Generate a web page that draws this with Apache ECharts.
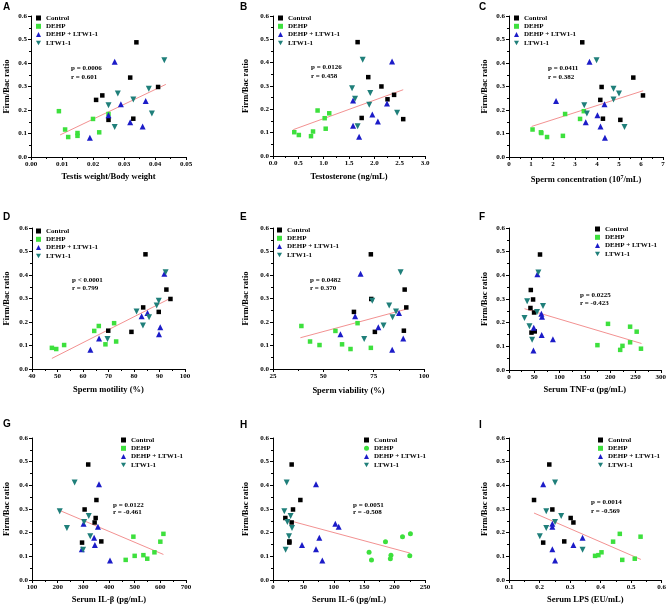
<!DOCTYPE html>
<html><head><meta charset="utf-8">
<script src="https://cdn.jsdelivr.net/npm/echarts@6/dist/echarts.min.js"></script>
<style>html,body{margin:0;padding:0;background:#fff}#c{width:669px;height:606px}</style>
</head><body><div id="c"></div>
<script>
// ---------- DATA ----------
const groups = ['Control', 'DEHP', 'DEHP + LTW1-1', 'LTW1-1'];
// Firm/Bac ratio per animal (same animals in every panel)
const yControl = [0.488, 0.338, 0.298, 0.262, 0.243, 0.163, 0.158];
const yDEHP    = [0.195, 0.183, 0.162, 0.117, 0.105, 0.102, 0.090, 0.085];
const yCombo   = [0.405, 0.238, 0.225, 0.178, 0.148, 0.130, 0.082];
const yLTW     = [0.412, 0.290, 0.270, 0.245, 0.220, 0.185, 0.128];

// A: Testis weight/Body weight
const testisControl = [0.034, 0.032, 0.041, 0.023, 0.021, 0.033, 0.025];
const testisDEHP    = [0.009, 0.025, 0.020, 0.011, 0.022, 0.015, 0.015, 0.012];
const testisCombo   = [0.027, 0.037, 0.029, 0.025, 0.032, 0.036, 0.019];
const testisLTW     = [0.043, 0.038, 0.028, 0.033, 0.025, 0.039, 0.027];
const testisFitX = [0.0094, 0.0435], testisFitY = [0.094, 0.309];
const testisStats = ['p = 0.0006', 'r = 0.601'];

// B: Testosterone
const testoControl = [1.67, 1.88, 2.14, 2.39, 2.26, 1.75, 2.57];
const testoDEHP    = [0.88, 1.11, 1.02, 1.04, 0.79, 0.42, 0.51, 0.75];
const testoCombo   = [2.35, 1.58, 2.25, 1.96, 2.07, 1.58, 1.70];
const testoLTW     = [1.77, 1.56, 1.92, 1.62, 1.90, 2.45, 1.67];
const testoFitX = [0.40, 2.57], testoFitY = [0.113, 0.284];
const testoStats = ['p = 0.0126', 'r = 0.458'];

// C: Sperm concentration
const concControl = [3.33, 5.65, 4.21, 6.09, 4.15, 4.27, 5.06];
const concDEHP    = [3.40, 2.55, 3.23, 1.07, 1.45, 1.47, 2.45, 1.73];
const concCombo   = [3.66, 2.14, 4.34, 4.02, 3.49, 4.16, 4.36];
const concLTW     = [3.98, 4.75, 5.00, 4.75, 3.42, 3.54, 5.25];
const concFitX = [1.03, 6.10], concFitY = [0.130, 0.282];
const concStats = ['p = 0.0411', 'r = 0.382'];

// D: Sperm motility
const motControl = [84.5, 92.7, 94.3, 83.6, 89.7, 69.9, 79.0];
const motDEHP    = [72.2, 66.2, 64.4, 73.0, 68.8, 52.6, 47.8, 49.5];
const motCombo   = [91.9, 85.3, 83.0, 90.3, 89.8, 66.3, 62.9];
const motLTW     = [92.4, 89.7, 88.9, 81.0, 85.9, 83.5, 69.6];
const motFitX = [47.8, 94.1], motFitY = [0.045, 0.300];
const motStats = ['p < 0.0001', 'r = 0.799'];

// E: Sperm viability
const viaControl = [73.6, 90.4, 73.8, 91.2, 65.2, 90.0, 75.6];
const viaDEHP    = [67.0, 39.1, 56.0, 43.4, 59.3, 48.1, 73.6, 63.5];
const viaCombo   = [68.5, 87.6, 65.8, 77.3, 58.5, 89.7, 84.2];
const viaLTW     = [88.4, 74.3, 82.7, 86.1, 84.4, 79.9, 70.3];
const viaFitX = [38.6, 91.4], viaFitY = [0.133, 0.255];
const viaStats = ['p = 0.0482', 'r = 0.370'];

// F: Serum TNF-α
const tnfControl = [61.3, 43.1, 47.6, 42.4, 49.6, 50.9, 44.4];
const tnfDEHP    = [195.7, 239.4, 252.4, 239.4, 174.8, 224.3, 260.9, 219.8];
const tnfCombo   = [56.1, 64.0, 65.2, 48.9, 64.6, 86.8, 48.3];
const tnfLTW     = [58.1, 35.9, 67.2, 55.4, 30.7, 40.4, 45.7];
const tnfFitX = [30.7, 262], tnfFitY = [0.259, 0.112];
const tnfStats = ['p = 0.0225', 'r = -0.423'];

// G: Serum IL-β
const ilbControl = [319, 351, 305, 348, 344, 370, 295];
const ilbDEHP    = [612, 495, 600, 577, 534, 500, 549, 465];
const ilbCombo   = [361, 301, 357, 342, 345, 294, 404];
const ilbLTW     = [266, 208, 321, 303, 236, 327, 299];
const ilbFitX = [212, 612], ilbFitY = [0.292, 0.108];
const ilbStats = ['p = 0.0122', 'r = -0.461'];

// H: Serum IL-6
const il6Control = [30.7, 45, 32.9, 20.3, 30.7, 26.9, 26.9];
const il6DEHP    = [226, 213, 185, 158, 194, 225, 193, 162];
const il6Combo   = [70.7, 102.5, 108, 76.2, 47.7, 70.7, 81.1];
const il6LTW     = [22.5, 18.6, 29, 23.6, 31.3, 26.3, 20.8];
const il6FitX = [22.5, 225], il6FitY = [0.254, 0.114];
const il6Stats = ['p = 0.0051', 'r = -0.508'];

// I: Serum LPS
const lpsControl = [0.232, 0.182, 0.242, 0.302, 0.311, 0.281, 0.212];
const lpsDEHP    = [0.463, 0.531, 0.441, 0.403, 0.393, 0.382, 0.512, 0.471];
const lpsCombo   = [0.212, 0.242, 0.242, 0.341, 0.311, 0.242, 0.251];
const lpsLTW     = [0.251, 0.222, 0.271, 0.251, 0.222, 0.201, 0.341];
const lpsFitX = [0.182, 0.532], lpsFitY = [0.283, 0.087];
const lpsStats = ['p = 0.0014', 'r = -0.569'];

const yAxisTitle = 'Firm/Bac ratio';

// ---------- LAYOUT ----------
const panels = [
 {letter:'A', grid:[31,16,155,141], x:[0,0.05,0.01,2], name:'Testis weight/Body weight',
  xs:[testisControl,testisDEHP,testisCombo,testisLTW], fx:testisFitX, fy:testisFitY, st:testisStats,
  stPos:[71,69,78], lg:[39,18], lt:[3,2], xGap:15, yGap:20},
 {letter:'B', grid:[273,16,152,140], x:[0,3,0.5,1], name:'Testosterone (ng/mL)',
  xs:[testoControl,testoDEHP,testoCombo,testoLTW], fx:testoFitX, fy:testoFitY, st:testoStats,
  stPos:[311,68,77], lg:[281,18], lt:[240,2], xGap:16, yGap:23},
 {letter:'C', grid:[509,16,154,141], x:[0,7,1,0], name:'{a|Sperm concentration (10}{s|7}{a|/mL)}',
  xs:[concControl,concDEHP,concCombo,concLTW], fx:concFitX, fy:concFitY, st:concStats,
  stPos:[548,69,78], lg:[517,18], lt:[479,2], xGap:17, yGap:20},
 {letter:'D', grid:[32,228,153,141], x:[40,100,10,0], name:'Sperm motility (%)',
  xs:[motControl,motDEHP,motCombo,motLTW], fx:motFitX, fy:motFitY, st:motStats,
  stPos:[72,281,289], lg:[39,231], lt:[3,212], xGap:16, yGap:21},
 {letter:'E', grid:[273,228,151,141], x:[25,100,25,0], name:'Sperm viability (%)',
  xs:[viaControl,viaDEHP,viaCombo,viaLTW], fx:viaFitX, fy:viaFitY, st:viaStats,
  stPos:[310,281,289], lg:[280,230], lt:[240,212], xGap:17, yGap:23},
 {letter:'F', grid:[509,228,154,142], x:[0,300,50,0], name:'Serum TNF-α (pg/mL)',
  xs:[tnfControl,tnfDEHP,tnfCombo,tnfLTW], fx:tnfFitX, fy:tnfFitY, st:tnfStats,
  stPos:[580,296,304], lg:[598,229], lt:[479,212], xGap:15, yGap:20},
 {letter:'G', grid:[32,438,154,142], x:[100,700,100,0], name:'Serum IL-β (pg/mL)',
  xs:[ilbControl,ilbDEHP,ilbCombo,ilbLTW], fx:ilbFitX, fy:ilbFitY, st:ilbStats,
  stPos:[113,506,513], lg:[124,440], lt:[3,419], xGap:15, yGap:21},
 {letter:'H', grid:[273,438,152,142], x:[0,250,50,0], name:'Serum IL-6 (pg/mL)',
  xs:[il6Control,il6DEHP,il6Combo,il6LTW], fx:il6FitX, fy:il6FitY, st:il6Stats,
  stPos:[353,506,513], lg:[367,440], lt:[240,420], xGap:15, yGap:23, circleDEHP:true},
 {letter:'I', grid:[509,438,153,142], x:[0.1,0.6,0.1,1], name:'Serum LPS (EU/mL)',
  xs:[lpsControl,lpsDEHP,lpsCombo,lpsLTW], fx:lpsFitX, fy:lpsFitY, st:lpsStats,
  stPos:[591,503,512], lg:[601,440], lt:[479,420], xGap:15, yGap:20}
];

const ys = [yControl, yDEHP, yCombo, yLTW];
const colors = ['#000000', '#3de03d', '#1c1cc8', '#1f7f7a'];
const SERIF = '"Liberation Serif", "Times New Roman", serif';
const DOWN_TRI = 'path://M0,0 L10,0 L5,9 Z';
const symbols = [
  {symbol:'rect', size:4.5, rot:0},
  {symbol:'rect', size:4.5, rot:0},
  {symbol:'triangle', size:6, rot:0},
  {symbol:'triangle', size:6, rot:180}
];
const legendIcons = ['rect', 'rect', 'triangle', DOWN_TRI];

const grid = [], xAxis = [], yAxis = [], series = [], legend = [], graphic = [];
const nameStyle = {fontFamily: SERIF, fontWeight:'bold', fontSize:8.5, color:'#000'};
const labelStyle = {fontFamily: SERIF, fontWeight:'bold', fontSize:7, color:'#000'};

panels.forEach((p, i) => {
  grid.push({left:p.grid[0], top:p.grid[1], width:p.grid[2], height:p.grid[3], containLabel:false});
  const axCommon = {
    axisLine:{show:true, onZero:false, lineStyle:{color:'#000', width:1}},
    axisTick:{show:true, length:3, lineStyle:{color:'#000', width:1}},
    minorTick:{show:true, splitNumber:2, length:2, lineStyle:{color:'#000', width:1}},
    splitLine:{show:false}, minorSplitLine:{show:false}
  };
  xAxis.push(Object.assign({
    type:'value', gridIndex:i, min:p.x[0], max:p.x[1], interval:p.x[2],
    axisLabel:Object.assign({margin:4, formatter:(v)=>v.toFixed(p.x[3]), showMinLabel:true, showMaxLabel:true}, labelStyle),
    name:p.name, nameLocation:'middle', nameGap:p.xGap,
    nameTextStyle:Object.assign({}, nameStyle, i===2 ? {rich:{
      a:{fontFamily:SERIF, fontWeight:'bold', fontSize:8.5, color:'#000', lineHeight:11},
      s:{fontFamily:SERIF, fontWeight:'bold', fontSize:6, color:'#000', verticalAlign:'top', lineHeight:11, padding:[0,0,5,0]}
    }} : {})
  }, axCommon));
  yAxis.push(Object.assign({
    type:'value', gridIndex:i, min:0, max:0.6, interval:0.1,
    axisLabel:Object.assign({margin:4, formatter:(v)=>v.toFixed(1)}, labelStyle),
    name:yAxisTitle, nameLocation:'middle', nameGap:p.yGap, nameTextStyle:nameStyle
  }, axCommon));

  // trend line
  series.push({
    type:'line', name:'fit'+p.letter, xAxisIndex:i, yAxisIndex:i,
    data:[[p.fx[0], p.fy[0]], [p.fx[1], p.fy[1]]],
    symbol:'none', silent:true, z:1, animation:false,
    lineStyle:{color:'#f08585', width:0.9}
  });
  groups.forEach((g, k) => {
    const sym = (k===1 && p.circleDEHP) ? {symbol:'circle', size:5, rot:0} : symbols[k];
    series.push({
      type:'scatter', name:g, xAxisIndex:i, yAxisIndex:i,
      data:p.xs[k].map((xv, j) => [xv, ys[k][j]]),
      symbol:sym.symbol, symbolSize:sym.size, symbolRotate:sym.rot,
      itemStyle:{color:colors[k], opacity:1}, z:3, animation:false
    });
  });

  legend.push({
    orient:'vertical', left:p.lg[0]-3, top:p.lg[1]-4, padding:0,
    itemWidth:5, itemHeight:5, itemGap:0.3, selectedMode:false, symbolRotate:0,
    textStyle:Object.assign({}, labelStyle, {lineHeight:8}),
    data:groups.map((g, k) => ({name:g, icon:(k===1 && p.circleDEHP) ? 'circle' : legendIcons[k],
      itemStyle:{color:colors[k]}}))
  });

  graphic.push({type:'text', left:p.lt[0], top:p.lt[1],
    style:{text:p.letter, font:'bold 10px "Liberation Sans", Arial, sans-serif', fill:'#000'}});
  graphic.push({type:'text', left:p.stPos[0], top:p.stPos[1]-4,
    style:{text:p.st[0], font:'bold 7px ' + SERIF, fill:'#000'}});
  graphic.push({type:'text', left:p.stPos[0], top:p.stPos[2]-4,
    style:{text:p.st[1], font:'bold 7px ' + SERIF, fill:'#000'}});
});

const chart = echarts.init(document.getElementById('c'), null, {renderer:'canvas'});
chart.setOption({backgroundColor:'#fff', animation:false, grid, xAxis, yAxis, series, legend, graphic});
</script></body></html>
